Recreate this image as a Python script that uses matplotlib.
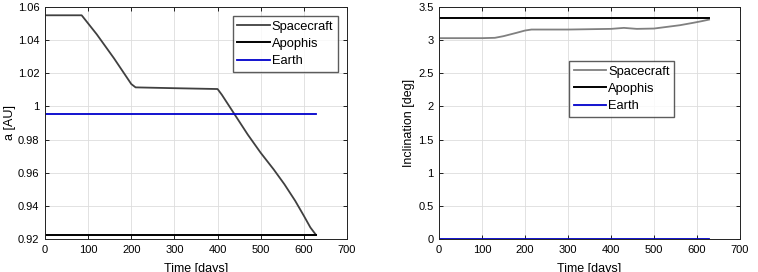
import matplotlib
matplotlib.use('Agg')
import matplotlib.pyplot as plt

plt.rcParams['font.family'] = ['Liberation Sans', 'DejaVu Sans']
plt.rcParams['font.size'] = 8

# Semi-major axis (AU)
t_sc_a = [0, 85, 120, 160, 200, 210, 300, 400, 410, 440, 470, 500, 530, 555, 580, 600, 615, 628]
a_sc = [1.055, 1.055, 1.0435, 1.029, 1.0135, 1.0115, 1.011, 1.0105, 1.007, 0.995, 0.983, 0.972, 0.962, 0.953, 0.943, 0.934, 0.927, 0.9225]
t_body = [0, 628]
a_apophis = [0.9226, 0.9226]
a_earth = [0.9955, 0.9955]

# Inclination (deg)
t_sc_i = [0, 50, 100, 130, 150, 180, 200, 215, 300, 400, 430, 460, 500, 530, 560, 590, 610, 628]
i_sc = [3.03, 3.03, 3.03, 3.035, 3.06, 3.11, 3.145, 3.16, 3.16, 3.17, 3.185, 3.17, 3.175, 3.2, 3.225, 3.26, 3.285, 3.31]
i_apophis = [3.33, 3.33]
i_earth = [0.0, 0.0]

fig = plt.figure(figsize=(7.58, 2.72), dpi=100)
ax1 = fig.add_axes([45/758, 1 - 239/272, 302/758, 232/272])
ax2 = fig.add_axes([439/758, 1 - 239/272, 301/758, 232/272])

leg_opts = dict(fancybox=False, edgecolor='#333333', handlelength=2.55,
                handletextpad=0.15, borderpad=0.35, labelspacing=0.4,
                fontsize=9.3, borderaxespad=0)

for ax in (ax1, ax2):
    ax.grid(True, color='#dddddd', linewidth=0.6)
    ax.set_axisbelow(True)
    ax.tick_params(direction='in', length=3, width=0.6, top=True, right=True, pad=4)
    for s in ax.spines.values():
        s.set_linewidth(0.7)
        s.set_color('#222222')
    ax.set_xlim(0, 700)
    ax.set_xticks(range(0, 701, 100))
    ax.set_xlabel('Time [days]', fontsize=9, labelpad=6)

ax1.plot(t_sc_a, a_sc, color='#404040', lw=1.3, label='Spacecraft')
ax1.plot(t_body, a_apophis, color='black', lw=1.4, label='Apophis')
ax1.plot(t_body, a_earth, color='#0000cc', lw=1.3, label='Earth')
ax1.set_ylim(0.92, 1.06)
ax1.set_yticks([0.92, 0.94, 0.96, 0.98, 1.0, 1.02, 1.04, 1.06])
ax1.set_yticklabels(['0.92', '0.94', '0.96', '0.98', '1', '1.02', '1.04', '1.06'])
ax1.set_ylabel('a [AU]', fontsize=9, labelpad=1)
ax1.legend(loc='upper right', bbox_to_anchor=(0.970, 0.961), **leg_opts)

ax2.plot(t_sc_i, i_sc, color='#808080', lw=1.3, label='Spacecraft')
ax2.plot(t_body, i_apophis, color='black', lw=1.4, label='Apophis')
ax2.plot(t_body, i_earth, color='#0000cc', lw=1.3, label='Earth')
ax2.set_ylim(0, 3.5)
ax2.set_yticks([0, 0.5, 1, 1.5, 2, 2.5, 3, 3.5])
ax2.set_yticklabels(['0', '0.5', '1', '1.5', '2', '2.5', '3', '3.5'])
ax2.set_ylabel('Inclination [deg]', fontsize=9, labelpad=2)
ax2.legend(loc='upper left', bbox_to_anchor=(0.432, 0.767), **leg_opts)

fig.savefig('out.png', dpi=100)
